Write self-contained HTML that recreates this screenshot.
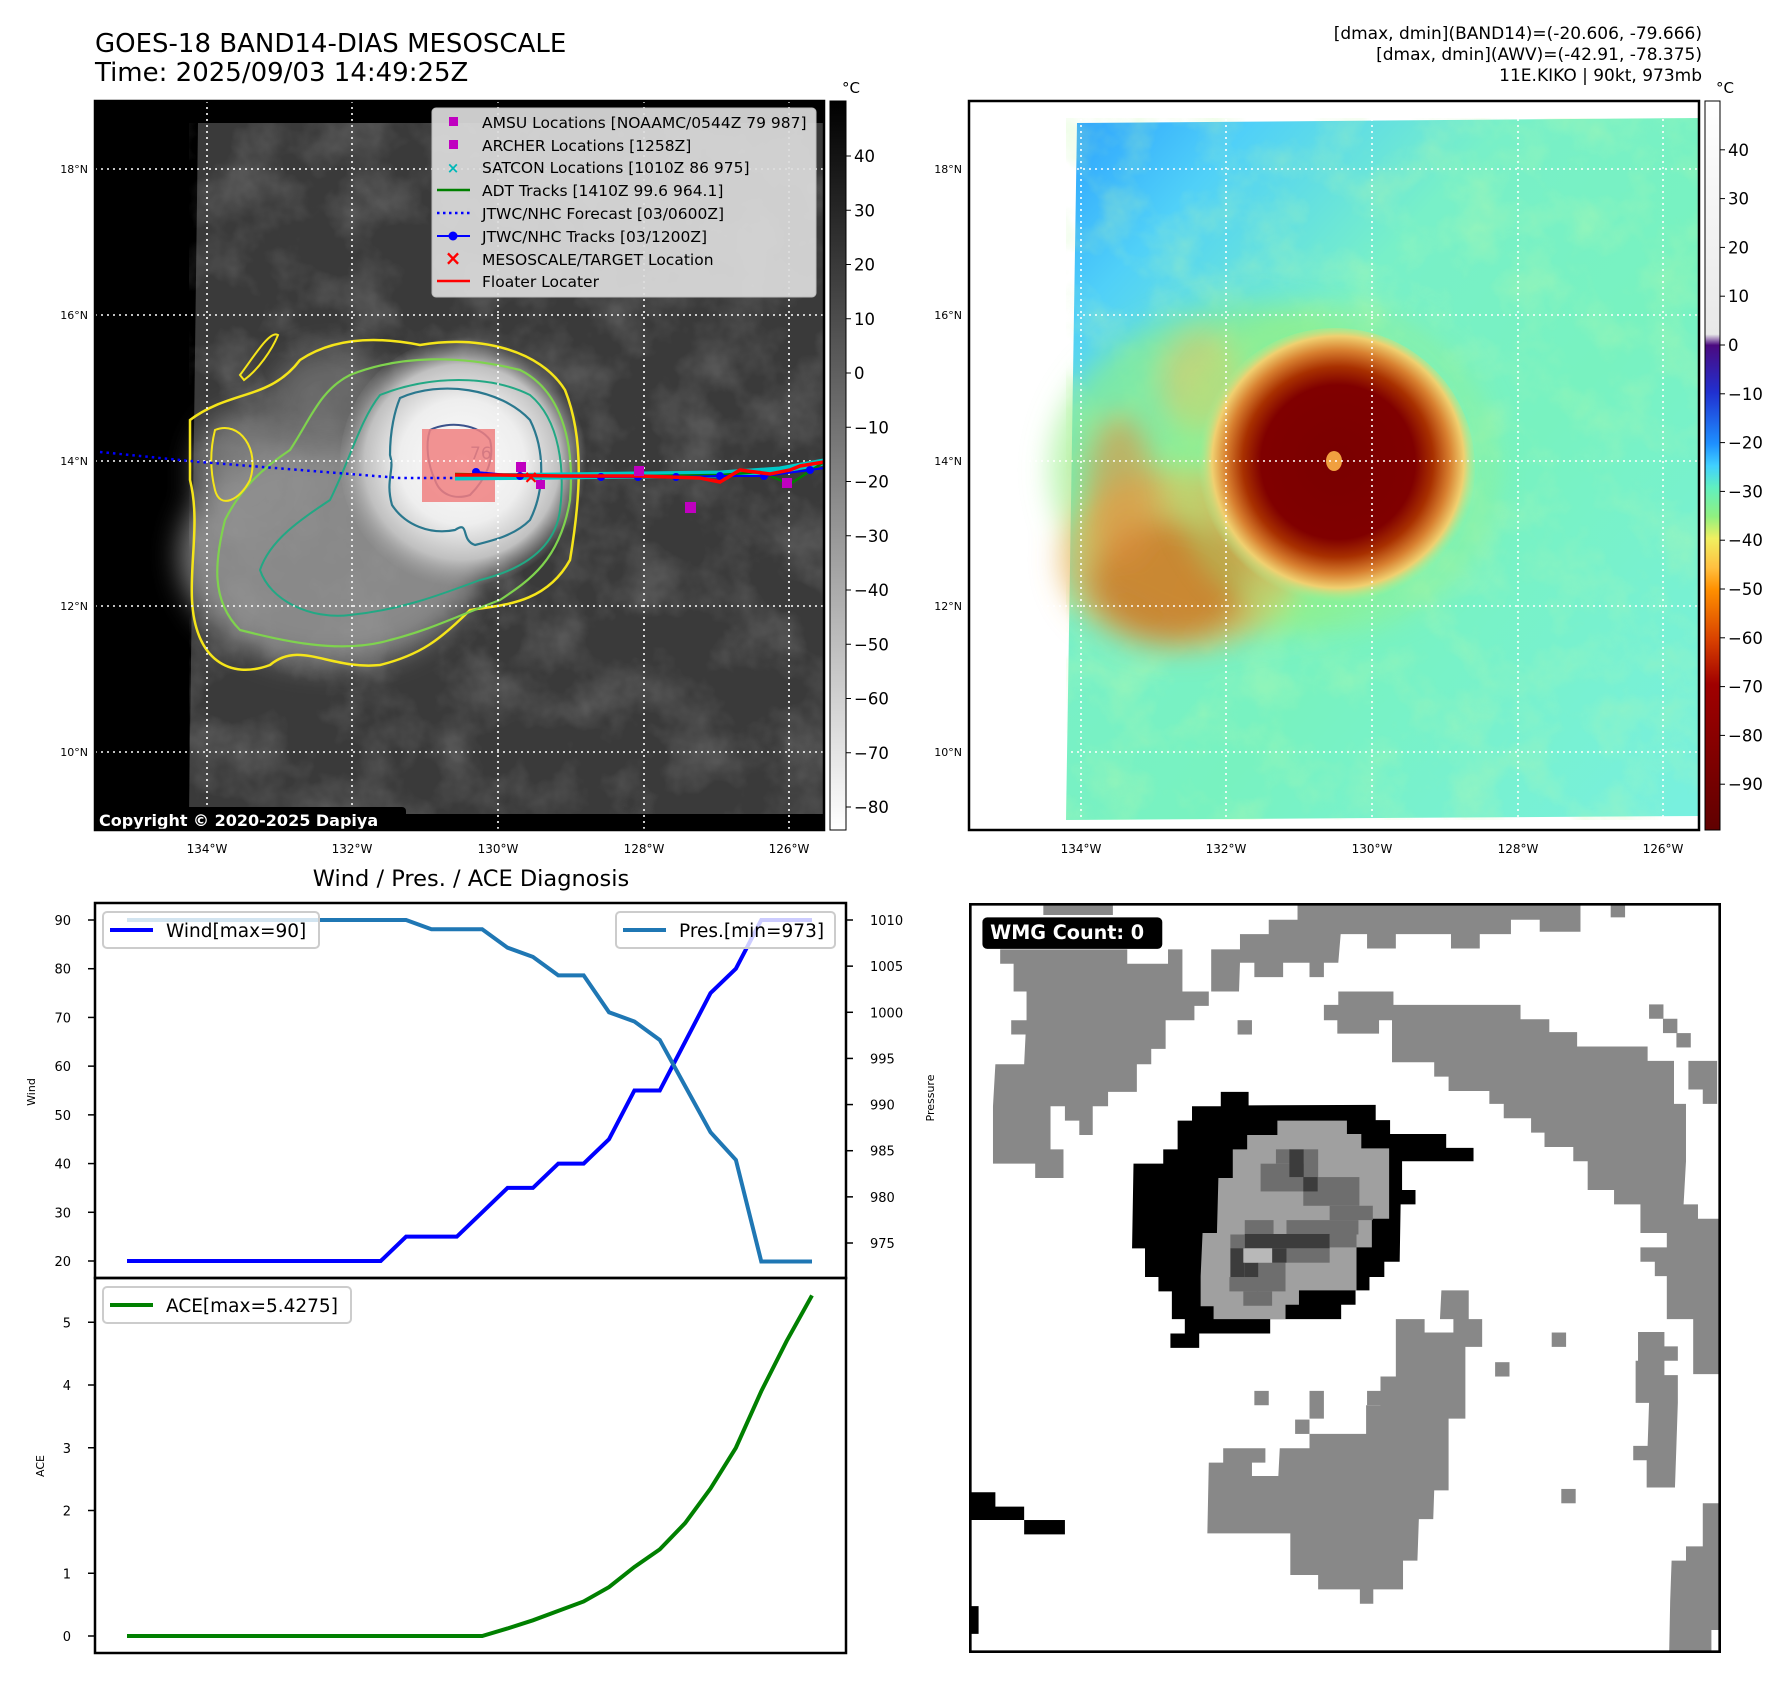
<!DOCTYPE html>
<html><head><meta charset="utf-8"><style>
html,body{margin:0;padding:0;background:#fff;}
svg{display:block;font-family:"DejaVu Sans","Liberation Sans",sans-serif;}
</style></head><body>
<svg id="root" width="1788" height="1690" viewBox="0 0 1788 1690" xmlns="http://www.w3.org/2000/svg">
<defs>
  <filter id="clouds" x="0" y="0" width="100%" height="100%">
    <feTurbulence type="fractalNoise" baseFrequency="0.018" numOctaves="4" seed="3"/>
    <feColorMatrix type="matrix" values="0 0 0 0 1  0 0 0 0 1  0 0 0 0 1  1.2 0 0 0 -0.5"/>
  </filter>
  <filter id="clouds2" x="0" y="0" width="100%" height="100%">
    <feTurbulence type="fractalNoise" baseFrequency="0.02" numOctaves="4" seed="7"/>
    <feColorMatrix type="matrix" values="0 0 0 0 0.55  0 0 0 0 0.95  0 0 0 0 0.4  1.4 0 0 0 -0.6"/>
  </filter>
  <filter id="blur12" x="-50%" y="-50%" width="200%" height="200%"><feGaussianBlur stdDeviation="14"/></filter>
  <radialGradient id="storm" cx="462" cy="462" r="125" gradientUnits="userSpaceOnUse">
    <stop offset="0" stop-color="#fbfbfb"/>
    <stop offset="0.5" stop-color="#eeeeee"/>
    <stop offset="0.78" stop-color="#c0c0c0"/>
    <stop offset="1" stop-color="#a0a0a0" stop-opacity="0"/>
  </radialGradient>
  <radialGradient id="stormR" cx="1338" cy="462" r="140" gradientUnits="userSpaceOnUse">
    <stop offset="0" stop-color="#7a0000"/>
    <stop offset="0.55" stop-color="#800000"/>
    <stop offset="0.68" stop-color="#a83000"/>
    <stop offset="0.8" stop-color="#d88030"/>
    <stop offset="0.9" stop-color="#f0d070"/>
    <stop offset="1" stop-color="#a8f090" stop-opacity="0"/>
  </radialGradient>
  <linearGradient id="bgR" x1="0" y1="0" x2="1" y2="1">
    <stop offset="0" stop-color="#2aa0ff"/>
    <stop offset="0.15" stop-color="#50d0f8"/>
    <stop offset="0.35" stop-color="#78f0c8"/>
    <stop offset="0.6" stop-color="#78f2c0"/>
    <stop offset="1" stop-color="#78f0e0"/>
  </linearGradient>
  <linearGradient id="cbL" x1="0" y1="0" x2="0" y2="1">
    <stop offset="0" stop-color="#000"/><stop offset="1" stop-color="#fff"/>
  </linearGradient>
  <linearGradient id="cbR" x1="0" y1="0" x2="0" y2="1">
    <stop offset="0" stop-color="#ffffff"/>
    <stop offset="0.32" stop-color="#e8e8e8"/>
    <stop offset="0.335" stop-color="#4b0a80"/>
    <stop offset="0.4" stop-color="#2030d0"/>
    <stop offset="0.47" stop-color="#1e90ff"/>
    <stop offset="0.5" stop-color="#40d0ff"/>
    <stop offset="0.53" stop-color="#60f0c0"/>
    <stop offset="0.57" stop-color="#90f080"/>
    <stop offset="0.6" stop-color="#f0f060"/>
    <stop offset="0.64" stop-color="#ffc040"/>
    <stop offset="0.67" stop-color="#ff9000"/>
    <stop offset="0.74" stop-color="#d84000"/>
    <stop offset="0.8" stop-color="#a00000"/>
    <stop offset="1" stop-color="#600000"/>
  </linearGradient>
  <clipPath id="clipL"><rect x="95" y="101" width="729" height="729"/></clipPath>
  <clipPath id="clipR"><rect x="969" y="101" width="730" height="729"/></clipPath>
</defs>

<text x="95" y="52" font-size="26">GOES-18 BAND14-DIAS MESOSCALE</text>
<text x="95" y="81" font-size="26">Time: 2025/09/03 14:49:25Z</text>
<g font-size="17" text-anchor="end">
  <text x="1702" y="39">[dmax, dmin](BAND14)=(-20.606, -79.666)</text>
  <text x="1702" y="60">[dmax, dmin](AWV)=(-42.91, -78.375)</text>
  <text x="1702" y="81">11E.KIKO | 90kt, 973mb</text>
</g>

<!-- LEFT MAP -->
<g clip-path="url(#clipL)">
  <rect x="95" y="101" width="729" height="729" fill="#000"/>
  <polygon points="198,123 824,123 824,814 189,814" fill="#3a3a3a"/>
  <polygon points="198,123 824,123 824,814 189,814" fill="#fff" filter="url(#clouds)" opacity="0.3"/>
  <g filter="url(#blur12)">
    <ellipse cx="330" cy="555" rx="150" ry="110" fill="#9c9c9c" opacity="0.8"/>
    <ellipse cx="245" cy="470" rx="50" ry="60" fill="#909090" opacity="0.7"/>
    <ellipse cx="330" cy="400" rx="60" ry="50" fill="#7a7a7a" opacity="0.7"/>
  </g>
  <circle cx="465" cy="462" r="125" fill="url(#storm)"/>
  <path d="M190,420 C230,390 270,400 300,360 C330,340 370,335 420,345 C480,335 540,350 565,390 C585,440 580,500 570,560 C545,605 500,605 470,610 C440,640 420,655 380,665 C330,670 300,640 270,665 C230,680 195,660 192,600 C190,560 200,520 190,480 Z" fill="none" stroke="#f5e51a" stroke-width="2.5"/>
  <path d="M350,375 C400,355 460,355 520,370 C560,390 575,440 570,500 C560,560 530,580 500,600 C460,615 430,630 390,640 C340,655 280,640 240,630 C210,600 215,560 225,520 C240,490 260,470 290,450 C310,420 320,390 350,375 Z" fill="none" stroke="#7fd34e" stroke-width="2.2"/>
  <path d="M380,395 C430,375 490,375 530,395 C560,420 565,470 560,510 C555,550 520,570 480,580 C440,595 400,610 350,615 C310,620 270,600 260,570 C270,540 300,520 330,500 C350,460 360,420 380,395 Z" fill="none" stroke="#22a884" stroke-width="2"/>
  <path d="M400,398 C440,380 500,388 530,420 C545,450 545,490 530,520 C515,535 495,540 475,545 C460,540 470,520 455,530 C430,535 405,525 392,505 C385,480 395,470 390,455 C390,430 395,410 400,398 Z" fill="none" stroke="#2a788e" stroke-width="2.2"/>
  <path d="M430,430 C450,420 480,425 490,440 C495,460 485,480 470,495 C455,500 440,495 435,480 C428,465 425,445 430,430 Z" fill="none" stroke="#3b528b" stroke-width="2"/>
  <path d="M215,430 C240,420 260,450 250,480 C240,500 220,510 215,490 C210,470 210,450 215,430 Z" fill="none" stroke="#f5e51a" stroke-width="2"/>
  <path d="M240,375 C255,355 270,330 278,335 C272,350 258,370 244,380 Z" fill="none" stroke="#f5e51a" stroke-width="2"/>
  <text x="470" y="459" font-size="17" fill="#3b528b">76</text>
  <rect x="422" y="429" width="73" height="73" fill="#f08080" opacity="0.85"/>
  <g stroke="#fff" stroke-width="1.6" stroke-dasharray="2,4">
    <line x1="207" y1="101" x2="207" y2="830"/><line x1="352" y1="101" x2="352" y2="830"/>
    <line x1="498" y1="101" x2="498" y2="830"/><line x1="644" y1="101" x2="644" y2="830"/>
    <line x1="789" y1="101" x2="789" y2="830"/>
    <line x1="95" y1="169" x2="824" y2="169"/><line x1="95" y1="315" x2="824" y2="315"/>
    <line x1="95" y1="461" x2="824" y2="461"/><line x1="95" y1="606" x2="824" y2="606"/>
    <line x1="95" y1="752" x2="824" y2="752"/>
  </g>
  <polyline points="100,452 200,462 300,470 400,478 455,478" fill="none" stroke="#0000ff" stroke-width="2.5" stroke-dasharray="2.5,4"/>
  <polyline points="455,477 560,476 640,475 720,474 780,470 824,462" fill="none" stroke="#00c8c8" stroke-width="7"/>
  <polyline points="455,474 560,476 640,476 720,475 760,472 790,484 824,462" fill="none" stroke="#008000" stroke-width="2.5"/>
  <polyline points="476,472 520,476 601,477 676,477 720,476 764,476 810,470 824,468" fill="none" stroke="#0000ff" stroke-width="2"/>
  <g fill="#0000ff">
    <circle cx="476" cy="472" r="4"/><circle cx="520" cy="476" r="4"/><circle cx="601" cy="477" r="4"/><circle cx="638" cy="477" r="4"/><circle cx="676" cy="477" r="4"/><circle cx="720" cy="476" r="4"/><circle cx="764" cy="476" r="4"/><circle cx="810" cy="470" r="4"/>
  </g>
  <polyline points="455,475 500,475 560,476 640,476 700,478 720,482 740,470 770,474 790,470 800,466 824,462" fill="none" stroke="#ff0000" stroke-width="3.5"/>
  <g fill="#c000c0">
    <rect x="516" y="462" width="10" height="10"/><rect x="634" y="466" width="10" height="10"/><rect x="685" y="502" width="11" height="11"/><rect x="782" y="478" width="10" height="10"/><rect x="536" y="480" width="9" height="9"/>
  </g>
  <text x="531" y="483" font-size="18" fill="#ff0000" font-weight="bold" text-anchor="middle">×</text>
  <g>
    <rect x="432" y="108" width="384" height="189" rx="4" fill="#dcdcdc" fill-opacity="0.92" stroke="#bbb"/>
    <g font-size="15.5" fill="#000">
      <rect x="449" y="117" width="9" height="9" fill="#c000c0"/><text x="482" y="128">AMSU Locations [NOAAMC/0544Z 79 987]</text>
      <rect x="449" y="140" width="9" height="9" fill="#c000c0"/><text x="482" y="151">ARCHER Locations [1258Z]</text>
      <text x="453" y="173" font-size="15" fill="#00b8b8" text-anchor="middle" font-weight="bold">×</text><text x="482" y="173">SATCON Locations [1010Z 86 975]</text>
      <line x1="437" y1="190" x2="470" y2="190" stroke="#008000" stroke-width="2.5"/><text x="482" y="196">ADT Tracks [1410Z 99.6 964.1]</text>
      <line x1="437" y1="213" x2="470" y2="213" stroke="#0000ff" stroke-width="2.5" stroke-dasharray="2.5,3.5"/><text x="482" y="219">JTWC/NHC Forecast [03/0600Z]</text>
      <line x1="437" y1="236" x2="470" y2="236" stroke="#0000ff" stroke-width="2"/><circle cx="453" cy="236" r="4.5" fill="#0000ff"/><text x="482" y="242">JTWC/NHC Tracks [03/1200Z]</text>
      <text x="453" y="265" font-size="20" fill="#ff0000" text-anchor="middle" font-weight="bold">×</text><text x="482" y="265">MESOSCALE/TARGET Location</text>
      <line x1="437" y1="281" x2="470" y2="281" stroke="#ff0000" stroke-width="2.5"/><text x="482" y="287">Floater Locater</text>
    </g>
  </g>
  <rect x="93" y="807" width="313" height="25" rx="4" fill="#000"/>
  <text x="99" y="826" font-size="16" font-weight="bold" fill="#fff">Copyright © 2020-2025 Dapiya</text>
</g>
<rect x="95" y="101" width="729" height="729" fill="none" stroke="#000" stroke-width="2.5"/>
<g font-size="11" text-anchor="end">
  <text x="88" y="173">18°N</text><text x="88" y="319">16°N</text><text x="88" y="465">14°N</text><text x="88" y="610">12°N</text><text x="88" y="756">10°N</text>
</g>
<g font-size="12" text-anchor="middle">
  <text x="207" y="853">134°W</text><text x="352" y="853">132°W</text><text x="498" y="853">130°W</text><text x="644" y="853">128°W</text><text x="789" y="853">126°W</text>
</g>
<rect x="830" y="101" width="16" height="729" fill="url(#cbL)" stroke="#000" stroke-width="1"/>
<text x="842" y="93" font-size="15">°C</text>
<g id="cbLticks" font-size="16.5"></g>

<!-- RIGHT MAP -->
<g clip-path="url(#clipR)">
  <rect x="969" y="101" width="730" height="729" fill="#fff"/>
  <polygon points="1077,123 1699,118 1699,816 1066,820" fill="url(#bgR)"/>
  <polygon points="1077,123 1699,118 1699,816 1066,820" fill="#fff" filter="url(#clouds2)" opacity="0.5"/>
  <g filter="url(#blur12)">
    <ellipse cx="1250" cy="470" rx="200" ry="165" fill="#90f080" opacity="0.6"/>
    <ellipse cx="1180" cy="560" rx="120" ry="90" fill="#e8b050" opacity="0.7"/>
    <ellipse cx="1170" cy="580" rx="80" ry="60" fill="#c86010" opacity="0.6"/>
    <ellipse cx="1120" cy="490" rx="35" ry="75" fill="#e09040" opacity="0.6"/>
    <ellipse cx="1200" cy="380" rx="40" ry="50" fill="#f0c060" opacity="0.5"/>
  </g>
  <circle cx="1335" cy="468" r="150" fill="none" stroke="#a0f080" stroke-width="20" opacity="0.5" filter="url(#blur12)"/>
  <circle cx="1335" cy="468" r="140" fill="url(#stormR)"/>
  <ellipse cx="1334" cy="461" rx="8" ry="10" fill="#f0a040"/>
  <g stroke="#fff" stroke-width="1.6" stroke-dasharray="2,4">
    <line x1="1081" y1="101" x2="1081" y2="830"/><line x1="1226" y1="101" x2="1226" y2="830"/>
    <line x1="1372" y1="101" x2="1372" y2="830"/><line x1="1518" y1="101" x2="1518" y2="830"/>
    <line x1="1663" y1="101" x2="1663" y2="830"/>
    <line x1="969" y1="169" x2="1699" y2="169"/><line x1="969" y1="315" x2="1699" y2="315"/>
    <line x1="969" y1="461" x2="1699" y2="461"/><line x1="969" y1="606" x2="1699" y2="606"/>
    <line x1="969" y1="752" x2="1699" y2="752"/>
  </g>
</g>
<rect x="969" y="101" width="730" height="729" fill="none" stroke="#000" stroke-width="2.5"/>
<g font-size="11" text-anchor="end">
  <text x="962" y="173">18°N</text><text x="962" y="319">16°N</text><text x="962" y="465">14°N</text><text x="962" y="610">12°N</text><text x="962" y="756">10°N</text>
</g>
<g font-size="12" text-anchor="middle">
  <text x="1081" y="853">134°W</text><text x="1226" y="853">132°W</text><text x="1372" y="853">130°W</text><text x="1518" y="853">128°W</text><text x="1663" y="853">126°W</text>
</g>
<rect x="1705" y="101" width="15" height="729" fill="url(#cbR)" stroke="#000" stroke-width="1"/>
<text x="1716" y="93" font-size="15">°C</text>
<g id="cbRticks" font-size="16.5"></g>

<text x="471" y="886" font-size="22.5" text-anchor="middle">Wind / Pres. / ACE Diagnosis</text>
<g id="diag"></g>

<svg x="969" y="903" width="752" height="750" viewBox="0 0 1568 1568" preserveAspectRatio="none">
  <rect width="1568" height="1568" fill="#fff"/>
  <g fill="#888">
    <polygon points="155,5 300,5 300,25 155,25"/>
    <polygon points="65,97 330,97 330,127 415,127 415,97 445,97 445,185 500,185 500,215 470,215 470,245 410,245 410,305 380,305 380,337 350,337 350,395 290,395 290,425 258,425 258,485 230,485 230,455 200,455 200,425 170,425 170,515 197,515 197,575 138,575 138,545 50,545 50,425 55,337 115,337 118,275 88,275 88,245 120,245 120,185 93,185 93,127 65,127"/>
    <polygon points="505,97 565,97 565,65 625,65 625,35 685,35 685,5 1275,5 1275,60 1190,60 1190,35 1130,35 1130,65 1065,65 1065,95 1005,95 1005,65 890,65 890,95 830,95 830,65 775,65 770,125 740,125 740,155 710,155 710,125 655,125 655,155 595,155 595,125 565,125 563,185 505,185"/>
    <polygon points="770,185 885,185 885,213 1150,213 1150,243 1210,243 1210,270 1268,270 1268,300 1415,300 1415,330 1470,330 1470,420 1495,420 1495,540 1490,630 1520,630 1520,660 1565,660 1565,985 1510,985 1510,870 1455,870 1455,780 1430,780 1430,750 1400,750 1400,720 1455,720 1455,690 1400,690 1400,630 1345,630 1345,600 1290,600 1290,540 1260,540 1260,510 1200,510 1200,480 1172,480 1172,450 1115,450 1115,420 1085,420 1085,393 1000,393 1000,363 970,363 970,333 882,333 882,245 855,245 855,273 768,273 768,245 740,245 740,213 770,213"/>
    <polygon points="1500,330 1560,330 1560,420 1530,420 1530,390 1500,390"/>
    <polygon points="1395,897 1450,897 1450,927 1478,927 1478,957 1450,957 1450,987 1478,987 1478,1045 1475,1135 1472,1222 1413,1222 1413,1165 1385,1165 1385,1135 1415,1135 1418,1045 1390,1045 1390,957 1395,957"/>
    <polygon points="1530,1255 1565,1255 1565,1520 1548,1520 1548,1565 1460,1565 1462,1460 1465,1375 1495,1375 1495,1345 1530,1345"/>
    <polygon points="985,810 1042,810 1042,870 1070,870 1070,928 1035,928 1035,1078 1000,1078 1000,1228 970,1228 968,1288 938,1288 935,1375 905,1375 905,1435 843,1435 843,1465 815,1465 815,1435 728,1435 728,1405 670,1405 670,1318 497,1318 500,1170 530,1170 530,1140 618,1140 618,1170 590,1170 590,1198 645,1198 648,1140 710,1140 710,1110 828,1110 828,1050 858,1050 858,990 890,990 890,870 950,870 950,898 1010,898 1010,870 982,870"/>
    <rect x="560" y="245" width="30" height="30"/><rect x="1418" y="212" width="30" height="30"/><rect x="1447" y="242" width="30" height="30"/><rect x="1475" y="272" width="30" height="30"/><rect x="1338" y="5" width="30" height="25"/><rect x="595" y="1020" width="30" height="30"/><rect x="710" y="1020" width="30" height="58"/><rect x="680" y="1080" width="30" height="30"/><rect x="1097" y="960" width="30" height="30"/><rect x="1215" y="898" width="30" height="30"/><rect x="1235" y="1225" width="30" height="30"/><rect x="830" y="1020" width="30" height="30"/>
  </g>
  <polygon fill="#000" points="525,395 583,395 583,423 848,422 848,454 878,454 878,483 995,483 995,512 1052,512 1052,540 903,540 903,600 931,600 931,630 900,630 898,750 866,750 866,782 835,782 835,810 806,810 806,840 776,840 776,870 628,870 628,900 480,900 480,930 420,930 420,900 450,900 450,870 423,870 423,812 395,812 395,782 367,782 367,722 340,722 343,545 405,545 405,515 435,515 435,455 465,455 465,425 525,425"/>
  <polygon fill="#a0a0a0" points="643,455 788,455 788,483 818,483 818,513 876,513 876,660 840,660 840,720 808,720 808,810 688,810 688,840 660,840 660,870 510,870 510,843 483,843 483,780 487,690 517,690 520,575 550,575 550,515 580,515 580,485 643,485"/>
  <g fill="#6e6e6e">
    <rect x="608" y="545" width="90" height="58"/><rect x="640" y="515" width="30" height="30"/><rect x="697" y="573" width="117" height="60"/><rect x="752" y="633" width="90" height="30"/><rect x="575" y="663" width="60" height="30"/><rect x="662" y="663" width="150" height="30"/><rect x="545" y="693" width="30" height="30"/><rect x="752" y="690" width="56" height="30"/><rect x="662" y="722" width="90" height="30"/><rect x="600" y="752" width="60" height="60"/><rect x="543" y="782" width="60" height="30"/><rect x="572" y="812" width="60" height="30"/><rect x="698" y="515" width="30" height="58"/>
  </g>
  <g fill="#3c3c3c">
    <rect x="668" y="515" width="30" height="58"/><rect x="697" y="573" width="30" height="30"/><rect x="575" y="692" width="177" height="30"/><rect x="545" y="722" width="30" height="60"/><rect x="575" y="752" width="28" height="30"/><rect x="632" y="722" width="30" height="30"/>
  </g>
  <rect x="572" y="722" width="60" height="30" fill="#b8b8b8"/>
  <g fill="#000">
    <polygon points="5,1232 55,1232 55,1262 115,1262 115,1290 5,1290"/>
    <rect x="115" y="1290" width="85" height="30"/><rect x="5" y="1470" width="15" height="58"/>
  </g>
  <rect x="28" y="30" width="375" height="66" rx="10" fill="#000"/>
  <text x="44" y="75" font-size="40" font-weight="bold" fill="#fff">WMG Count: 0</text>
  <rect x="2.5" y="2.5" width="1563" height="1563" fill="none" stroke="#000" stroke-width="6"/>
</svg>

<script>
const cbLticks = [40,30,20,10,0,-10,-20,-30,-40,-50,-60,-70,-80];
const cbRticks = [40,30,20,10,0,-10,-20,-30,-40,-50,-60,-70,-80,-90];
const steps = [0,1,2,3,4,5,6,7,8,9,10,11,12,13,14,15,16,17,18,19,20,21,22,23,24,25,26,27];
const windVals = [20,20,20,20,20,20,20,20,20,20,20,25,25,25,30,35,35,40,40,45,55,55,65,75,80,90,90,90];
const presVals = [1010,1010,1010,1010,1010,1010,1010,1010,1010,1010,1010,1010,1009,1009,1009,1007,1006,1004,1004,1000,999,997,992,987,984,973,973,973];
const aceVals = [0,0,0,0,0,0,0,0,0,0,0,0,0,0,0,0.12,0.25,0.4,0.55,0.78,1.1,1.38,1.8,2.35,3.0,3.9,4.7,5.4275];
const windTicks = [20,30,40,50,60,70,80,90];
const presTicks = [975,980,985,990,995,1000,1005,1010];
const aceTicks = [0,1,2,3,4,5];

const NS = 'http://www.w3.org/2000/svg';
function mk(parent, tag, attrs, text){
  const e = document.createElementNS(NS, tag);
  for (const k in attrs) e.setAttribute(k, attrs[k]);
  if (text !== undefined) e.textContent = text;
  parent.appendChild(e);
  return e;
}
function fmt(v){ return v < 0 ? '\u2212' + Math.abs(v) : String(v); }

const cbLy = v => 156 + (40 - v) * 5.425;
const gL = document.getElementById('cbLticks');
cbLticks.forEach(v => {
  const y = cbLy(v);
  const l = mk(gL, 'line', {x1:846, x2:851, y1:y, y2:y, stroke:'#000'});
  
  
  const t = mk(gL, 'text', {x:854, y:y+6}, fmt(v));
  
  
});
const cbRy = v => 345 - v * 4.88;
const gR = document.getElementById('cbRticks');
cbRticks.forEach(v => {
  const y = cbRy(v);
  const l = mk(gR, 'line', {x1:1720, x2:1725, y1:y, y2:y, stroke:'#000'});
  
  
  const t = mk(gR, 'text', {x:1728, y:y+6}, fmt(v));
  
  
});

const g = document.getElementById('diag');
const xS = i => 127 + i * (812 - 127) / 27;
const yW = v => 920 + (90 - v) * (1261 - 920) / 70;
const yP = p => 920 + (1010 - p) * (1243 - 920) / 35;
const yA = a => 1636 - a * 62.75;

const bg = mk(g, 'rect', {x:95, y:903, width:751, height:750, fill:'#fff'});



function line(vals, yf, color, w, name){
  const p = mk(g, 'polyline', {points: vals.map((v,i)=>xS(steps[i])+','+yf(v)).join(' '), fill:'none', stroke:color, 'stroke-width':w, 'stroke-linejoin':'miter'});
  
  
}
line(windVals, yW, '#0000ff', 4, 'wind-line');
line(presVals, yP, '#1f77b4', 4, 'pressure-line');
line(aceVals, yA, '#008000', 4, 'ace-line');

const f1 = mk(g, 'rect', {x:95, y:903, width:751, height:375, fill:'none', stroke:'#000', 'stroke-width':2.5});


const f2 = mk(g, 'rect', {x:95, y:1278, width:751, height:375, fill:'none', stroke:'#000', 'stroke-width':2.5});



windTicks.forEach(v => {
  const y = yW(v);
  const l = mk(g, 'line', {x1:88, x2:95, y1:y, y2:y, stroke:'#000', 'stroke-width':1.5});
  
  
  const t = mk(g, 'text', {x:71, y:y+5, 'font-size':13, 'text-anchor':'end'}, String(v));
  
  
});
presTicks.forEach(v => {
  const y = yP(v);
  const l = mk(g, 'line', {x1:846, x2:853, y1:y, y2:y, stroke:'#000', 'stroke-width':1.5});
  
  
  const t = mk(g, 'text', {x:870, y:y+5, 'font-size':13}, String(v));
  
  
});
aceTicks.forEach(v => {
  const y = yA(v);
  const l = mk(g, 'line', {x1:88, x2:95, y1:y, y2:y, stroke:'#000', 'stroke-width':1.5});
  
  
  const t = mk(g, 'text', {x:71, y:y+5, 'font-size':13, 'text-anchor':'end'}, String(v));
  
  
});

const yl1 = mk(g, 'text', {x:0, y:0, 'font-size':11, 'text-anchor':'middle', transform:'translate(35,1092) rotate(-90)'}, 'Wind');


const yl2 = mk(g, 'text', {x:0, y:0, 'font-size':11, 'text-anchor':'middle', transform:'translate(934,1098) rotate(-90)'}, 'Pressure');


const yl3 = mk(g, 'text', {x:0, y:0, 'font-size':11, 'text-anchor':'middle', transform:'translate(44,1466) rotate(-90)'}, 'ACE');



function legend(x, y, w, color, label, name){
  const r = mk(g, 'rect', {x:x, y:y, width:w, height:36, rx:4, fill:'#fff', 'fill-opacity':0.8, stroke:'#ccc', 'stroke-width':2});
  
  
  const l = mk(g, 'line', {x1:x+7, x2:x+50, y1:y+18, y2:y+18, stroke:color, 'stroke-width':4});
  
  
  const t = mk(g, 'text', {x:x+63, y:y+25, 'font-size':18.5}, label);
  
  
}
legend(103, 912, 216, '#0000ff', 'Wind[max=' + Math.max(...windVals) + ']', 'wind-legend');
legend(616, 912, 219, '#1f77b4', 'Pres.[min=' + Math.min(...presVals) + ']', 'pressure-legend');
legend(103, 1287, 248, '#008000', 'ACE[max=' + Math.max(...aceVals) + ']', 'ace-legend');
</script>
</svg>
</body></html>
